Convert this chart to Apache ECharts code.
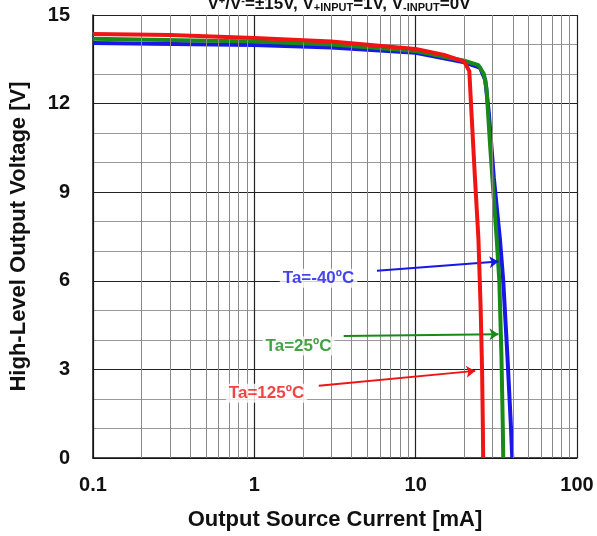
<!DOCTYPE html>
<html>
<head>
<meta charset="utf-8">
<script src="https://cdn.jsdelivr.net/npm/echarts@6/dist/echarts.min.js"></script>
<style>
  html, body { margin: 0; padding: 0; background: #fff; }
  #main { width: 597px; height: 536px; }
</style>
</head>
<body>
<div id="main"></div>
<script>
// 数据: 输出电流 [mA] / 高电平输出电压 [V]
var curBlue  = [0.1, 1, 3, 10, 20, 25, 27, 28.4, 30.5, 33.3, 34.9, 37, 39, 39.7];
var voltBlue = [14.05, 13.98, 13.9, 13.72, 13.4, 13.22, 12.8, 11.7, 9.5, 7.4, 6, 3.5, 1, 0];
var curGreen  = [0.1, 1, 3, 10, 20, 24.5, 26.5, 27.5, 29, 31.8, 33, 34, 34.7, 34.9];
var voltGreen = [14.2, 14.1, 14.0, 13.78, 13.45, 13.3, 13.0, 12.5, 10.5, 7.4, 6, 3.5, 1, 0];
var curRed  = [0.1, 0.3, 1, 3, 10, 15, 20, 21.5, 22.3, 23.3, 24.5, 25.3, 25.8, 26.1, 26.2];
var voltRed = [14.36, 14.32, 14.22, 14.1, 13.85, 13.65, 13.42, 13.1, 11.45, 9.5, 7.4, 5, 3, 1, 0];

var xTicks = [0.1, 1, 10, 100];
var yTicks = [0, 3, 6, 9, 12, 15];
var minorX = [0.2, 0.3, 0.4, 0.5, 0.6, 0.7, 0.8, 0.9, 2, 3, 4, 5, 6, 7, 8, 9, 20, 30, 40, 50, 60, 70, 80, 90];

// 标注: 文字位置 + 箭头起止 [mA, V]
var labelNames = ['Ta=-40ºC', 'Ta=25ºC', 'Ta=125ºC'];
var labelPos   = [[2.5, 6.09], [1.88, 3.79], [1.19, 2.19]];
var arrowStart = [[5.76, 6.34], [3.58, 4.13], [2.51, 2.45]];
var arrowEnd   = [[32.6, 6.65], [32.6, 4.19], [23.4, 2.95]];

var colors = ['#1717e6', '#178a17', '#f01414'];
var FONT = '"Liberation Sans", Arial, sans-serif';

function zip(a, b) {
  return a.map(function (v, i) { return [v, b[i]]; });
}

var curves = [zip(curBlue, voltBlue), zip(curGreen, voltGreen), zip(curRed, voltRed)];

var myChart = echarts.init(document.getElementById('main'), null, { renderer: 'canvas' });

var series = [];
// 次网格竖线
series.push({
  type: 'line',
  data: [],
  silent: true,
  z: 1,
  markLine: {
    silent: true,
    symbol: 'none',
    animation: false,
    label: { show: false },
    lineStyle: { color: '#8a8a8a', width: 1, type: 'solid' },
    data: minorX.map(function (v) { return { xAxis: v }; })
  }
});
curves.forEach(function (d, i) {
  series.push({
    name: labelNames[i],
    type: 'line',
    data: d,
    showSymbol: false,
    symbol: 'none',
    smooth: false,
    z: 3 + i,
    lineStyle: { color: colors[i], width: 4 },
    markLine: {
      silent: true,
      animation: false,
      symbol: ['none', 'arrow'],
      symbolSize: 9,
      label: { show: false },
      lineStyle: { color: colors[i], width: 2, type: 'solid' },
      data: [[{ coord: arrowStart[i] }, { coord: arrowEnd[i] }]]
    }
  });
});
labelNames.forEach(function (t, i) {
  series.push({
    type: 'scatter',
    data: [labelPos[i]],
    symbolSize: 0,
    silent: true,
    z: 10,
    label: {
      show: true,
      position: 'inside',
      formatter: t,
      color: colors[i],
      fontFamily: FONT,
      fontWeight: 'bold',
      fontSize: 17,
      backgroundColor: '#fff',
      padding: [1, 3]
    }
  });
});

var option = {
  backgroundColor: '#fff',
  animation: false,
  title: {
    left: 334,
    textAlign: 'center',
    top: -10,
    text: 'V{sup|+}/V{sup|-}=±15V, V{sub|+INPUT}=1V, V{sub|-INPUT}=0V',
    textStyle: {
      fontFamily: FONT,
      fontWeight: 'bold',
      fontSize: 17,
      color: '#111',
      rich: {
        sup: { fontFamily: FONT, fontWeight: 'bold', fontSize: 11, color: '#111', verticalAlign: 'top', padding: [0, 0, 7, 0] },
        sub: { fontFamily: FONT, fontWeight: 'bold', fontSize: 11, color: '#111', padding: [7, 0, 0, 0] }
      }
    }
  },
  grid: { left: 92, right: 20, top: 15, bottom: 78, show: false },
  xAxis: {
    type: 'log',
    logBase: 10,
    min: 0.1,
    max: 100,
    name: 'Output Source Current [mA]',
    nameLocation: 'middle',
    nameGap: 51,
    nameTextStyle: { fontFamily: FONT, fontWeight: 'bold', fontSize: 22, color: '#111' },
    axisLine: { show: true, lineStyle: { color: '#111', width: 1.5 } },
    axisTick: { show: false },
    axisLabel: {
      margin: 17,
      fontFamily: FONT,
      fontWeight: 'bold',
      fontSize: 20,
      color: '#111',
      formatter: function (v) {
        var m = xTicks.filter(function (t) { return Math.abs(t - v) < 1e-9 * t + 1e-12; });
        return m.length ? String(m[0]) : '';
      }
    },
    splitLine: { show: true, lineStyle: { color: '#222', width: 1.2 } }
  },
  yAxis: {
    type: 'value',
    min: yTicks[0],
    max: yTicks[yTicks.length - 1],
    interval: 3,
    name: 'High-Level Output Voltage [V]',
    nameLocation: 'middle',
    nameGap: 63,
    nameTextStyle: { fontFamily: FONT, fontWeight: 'bold', fontSize: 22, color: '#111' },
    axisLine: { show: true, lineStyle: { color: '#111', width: 1.5 } },
    axisTick: { show: false },
    axisLabel: {
      margin: 23,
      fontFamily: FONT,
      fontWeight: 'bold',
      fontSize: 20,
      color: '#111'
    },
    splitLine: { show: true, lineStyle: { color: '#222', width: 1.2 } },
    minorTick: { show: false, splitNumber: 3 },
    minorSplitLine: { show: true, lineStyle: { color: '#9a9a9a', width: 1 } }
  },
  series: series
};

option && myChart.setOption(option);
</script>
</body>
</html>
